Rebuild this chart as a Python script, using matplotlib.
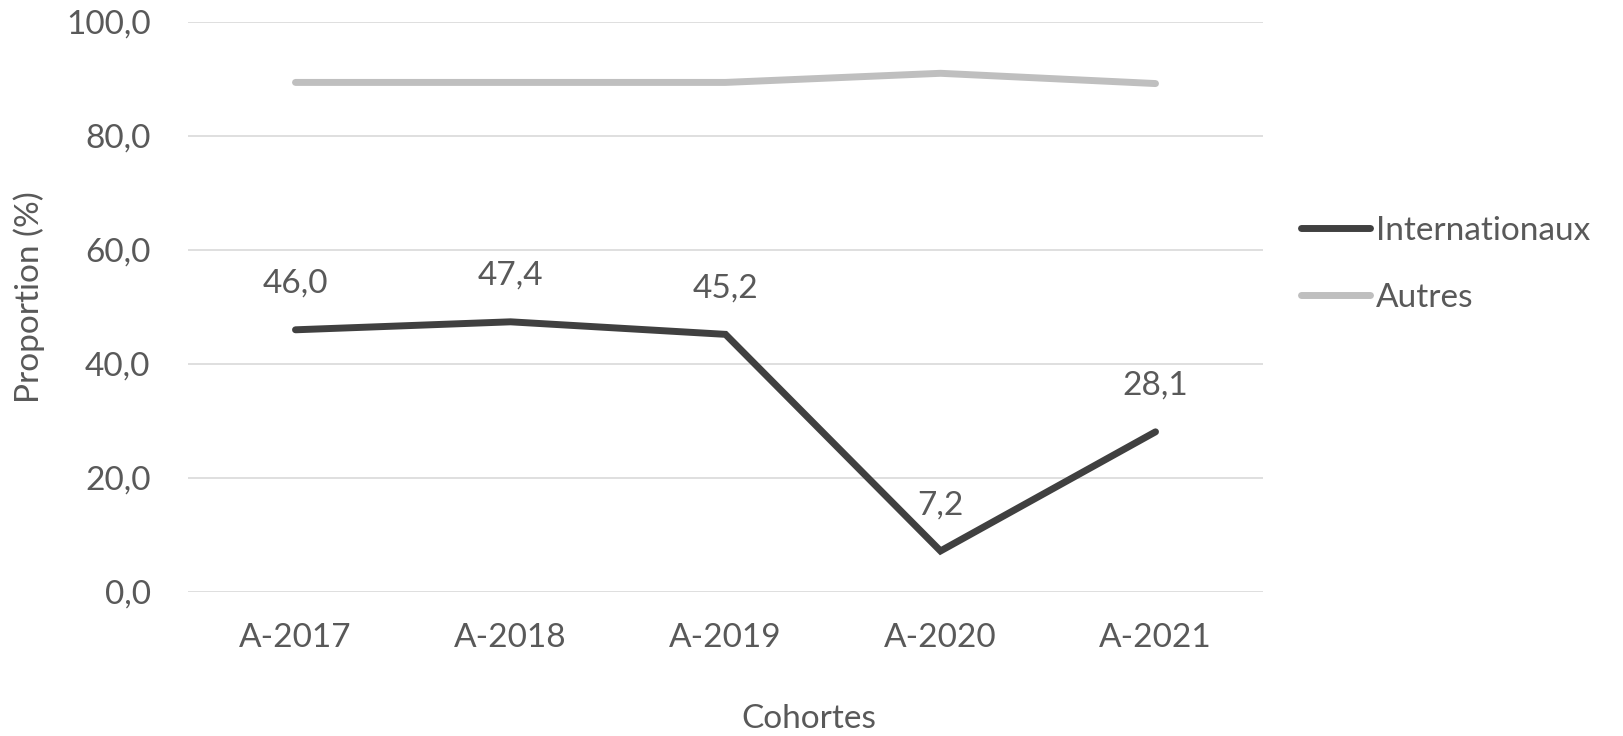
import matplotlib
matplotlib.use("Agg")
import matplotlib.pyplot as plt

categories = ["A-2017", "A-2018", "A-2019", "A-2020", "A-2021"]
internationaux = [46.0, 47.4, 45.2, 7.2, 28.1]
autres = [89.4, 89.4, 89.4, 91.0, 89.2]
yticks = [0, 20, 40, 60, 80, 100]

plt.rcParams['font.family'] = ['Lato', 'DejaVu Sans']
txt = '#595959'
W, H = 1623, 736
fig = plt.figure(figsize=(W/100, H/100), dpi=100)
ax = fig.add_axes([188/W, 1-592/H, 1075/W, 570/H])

x = list(range(len(categories)))
ax.plot(x, internationaux, color='#404040', lw=5, solid_capstyle='round', solid_joinstyle='miter', label='Internationaux', zorder=3)
ax.plot(x, autres, color='#BFBFBF', lw=5, solid_capstyle='round', label='Autres', zorder=3)

for xi, v in zip(x, internationaux):
    ax.annotate(f"{v:.1f}".replace('.', ','), (xi, v), xytext=(0, 33), textcoords='offset points',
                ha='center', va='center', fontsize=24, color=txt)

ax.set_xlim(-0.5, len(categories)-0.5)
ax.set_ylim(0, 100)
ax.set_yticks(yticks)
ax.set_yticklabels([f"{t:.1f}".replace('.', ',') for t in yticks])
ax.set_xticks(x)
ax.set_xticklabels(categories)
ax.tick_params(axis='both', length=0, labelsize=24, labelcolor=txt)
ax.tick_params(axis='y', pad=27)
ax.tick_params(axis='x', pad=22)
ax.grid(axis='y', color='#D9D9D9', lw=1.2)
ax.set_axisbelow(True)
for s in ax.spines.values():
    s.set_visible(False)

fig.text(29/W, 1-297/H, "Proportion (%)", rotation=90, ha='center', va='center', fontsize=24, color=txt)
fig.text(809/W, 1-719/H, "Cohortes", ha='center', va='center', fontsize=24, color=txt)

leg = fig.legend(loc='center left', bbox_to_anchor=(1301/W, 1-264.5/H), frameon=False,
                 fontsize=24, handlelength=2.06, handletextpad=0.18, labelspacing=1.1,
                 borderpad=0, borderaxespad=0, labelcolor=txt)

fig.savefig("out.png", dpi=100)
